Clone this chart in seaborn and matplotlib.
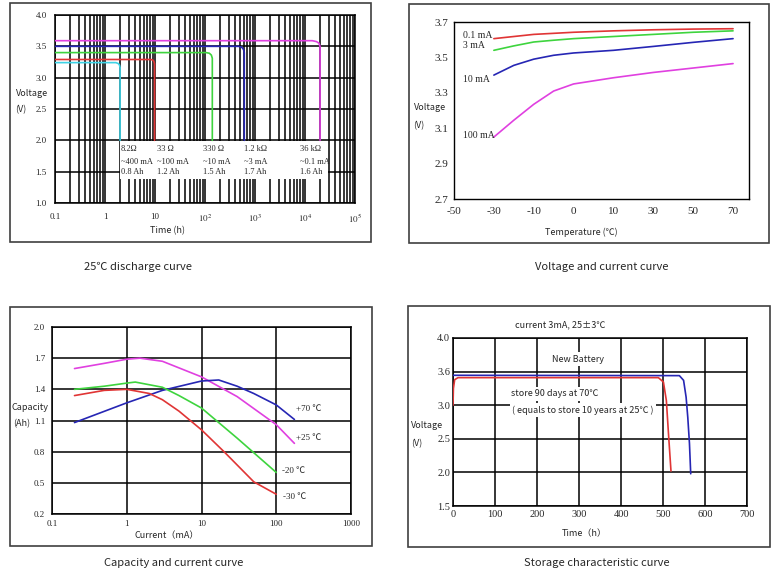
import numpy as np
import matplotlib
matplotlib.use("Agg")
import matplotlib.pyplot as plt
from matplotlib.patches import Rectangle
from matplotlib.ticker import FixedLocator, FixedFormatter, LogLocator, NullFormatter, NullLocator
import seaborn as sns

sns.set_style("white")
SANS = ['Liberation Sans Narrow', 'Noto Sans CJK SC', 'DejaVu Sans']
SERIF = ['Liberation Serif', 'Noto Sans CJK SC', 'DejaVu Serif']
plt.rcParams['font.family'] = SERIF
plt.rcParams['mathtext.fontset'] = 'stix'

W, H = 779, 576

# ---------------- data ----------------
# Panel 1: 25C discharge curves (time h, voltage V)
dis_cyan_t = [0.1, 1.65, 1.85, 1.95, 2.0, 2.0]
dis_cyan_v = [3.24, 3.24, 3.225, 3.20, 3.16, 2.0]
dis_red_t = [0.1, 8.3, 9.1, 9.5, 9.8, 9.8]
dis_red_v = [3.29, 3.29, 3.28, 3.26, 3.22, 2.0]
dis_green_t = [0.1, 105, 122, 134, 140, 140]
dis_green_v = [3.40, 3.40, 3.39, 3.36, 3.31, 2.0]
dis_blue_t = [0.1, 470, 545, 590, 610, 610]
dis_blue_v = [3.50, 3.50, 3.485, 3.45, 3.40, 2.0]
dis_mag_t = [0.1, 1.4e4, 1.7e4, 1.9e4, 2.0e4, 2.0e4]
dis_mag_v = [3.59, 3.59, 3.575, 3.55, 3.50, 2.0]
dis_ticks = [0.1, 1, 10, 100, 1e3, 1e4, 1e5]
dis_tick_labels = ['0.1', '1', '10', '$10^2$', '$10^3$', '$10^4$', '$10^5$']
dis_label_x = [2.05, 10.8, 90, 600, 8000]
dis_label_rows = [
    ['8.2Ω', '33 Ω', '330 Ω', '1.2 kΩ', '36 kΩ'],
    ['~400 mA', '~100 mA', '~10 mA', '~3 mA', '~0.1 mA'],
    ['0.8 Ah', '1.2 Ah', '1.5 Ah', '1.7 Ah', '1.6 Ah'],
]
dis_label_y = [1.86, 1.66, 1.49]

# Panel 2: voltage vs temperature
temp_axis = [-50, -30, -10, 0, 10, 30, 50, 70, 90]
temp_ticks = [-50, -30, -10, 0, 10, 30, 50, 70]
temps = [-30, -20, -10, -5, 0, 10, 30, 50, 70]
v_01mA = [3.606, 3.618, 3.630, 3.636, 3.642, 3.650, 3.656, 3.660, 3.662]
v_3mA = [3.540, 3.565, 3.587, 3.597, 3.606, 3.618, 3.630, 3.642, 3.650]
v_10mA = [3.400, 3.455, 3.490, 3.512, 3.525, 3.540, 3.562, 3.585, 3.606]
v_100mA = [3.050, 3.145, 3.235, 3.310, 3.350, 3.385, 3.415, 3.440, 3.465]
vt_labels = ['0.1 mA', '3 mA', '10 mA', '100 mA']
vt_label_y = [3.625, 3.57, 3.375, 3.06]

# Panel 3: capacity vs current
cap_p25_i = [0.2, 0.5, 1, 1.5, 3, 10, 30, 100, 175]
cap_p25_c = [1.60, 1.65, 1.69, 1.70, 1.67, 1.52, 1.33, 1.06, 0.88]
cap_p70_i = [0.2, 1, 3, 10, 17, 30, 50, 100, 175]
cap_p70_c = [1.08, 1.27, 1.39, 1.48, 1.49, 1.43, 1.36, 1.25, 1.11]
cap_m20_i = [0.2, 0.5, 1, 1.3, 3, 5, 10, 30, 100]
cap_m20_c = [1.40, 1.43, 1.46, 1.47, 1.42, 1.34, 1.22, 0.93, 0.60]
cap_m30_i = [0.2, 0.5, 1, 2, 3, 5, 10, 20, 50, 100]
cap_m30_c = [1.34, 1.39, 1.40, 1.36, 1.30, 1.19, 1.01, 0.80, 0.51, 0.39]
cap_labels = ['+70 ℃', '+25 ℃', '-20 ℃', '-30 ℃']
cap_label_x = [182, 182, 120, 122]
cap_label_y = [1.21, 0.93, 0.61, 0.365]
cap_ticks = [0.1, 1, 10, 100, 1000]
cap_tick_labels = ['0.1', '1', '10', '100', '1000']

# Panel 4: storage characteristic
st_new_t = [0, 539, 549, 555, 559, 563, 566]
st_new_v = [3.445, 3.44, 3.37, 3.12, 2.82, 2.43, 1.98]
st_old_t = [0, 1, 4, 12, 489, 501, 508, 513, 519]
st_old_v = [3.0, 3.25, 3.38, 3.41, 3.41, 3.345, 3.07, 2.58, 2.02]
st_yticks = [1.5, 2.0, 2.5, 3.0, 3.5, 4.0]
st_ytick_labels = ['1.5', '2.0', '2.5', '3.0', '3.6', '4.0']

# ---------------- helpers ----------------
def rect(l, t, r, b):
    return [l / W, 1 - b / H, (r - l) / W, (b - t) / H]

def ftext(x, y, s, size, **kw):
    fig.text(x / W, 1 - y / H, s, fontsize=size, ha='center', va='center',
             family=SANS, **kw)

fig = plt.figure(figsize=(W / 100, H / 100), dpi=100)

for (l, t, r, b) in [(10, 3, 371, 242), (409, 4, 769, 243),
                     (10, 307, 372, 546), (408, 306, 770, 547)]:
    fig.add_artist(Rectangle((l / W, 1 - b / H), (r - l) / W, (b - t) / H,
                             transform=fig.transFigure, fill=False,
                             edgecolor='#404040', lw=1.2))

C_CYAN, C_RED, C_GREEN, C_BLUE, C_MAG = '#3fd3e6', '#e03535', '#3ed43e', '#2626b4', '#e040e0'

# ---------------- panel 1 ----------------
ax1 = fig.add_axes(rect(55, 15, 355, 203))
ax1.set_xscale('log')
for t, v, c in [(dis_cyan_t, dis_cyan_v, C_CYAN), (dis_red_t, dis_red_v, C_RED),
                (dis_green_t, dis_green_v, C_GREEN), (dis_blue_t, dis_blue_v, C_BLUE),
                (dis_mag_t, dis_mag_v, C_MAG)]:
    sns.lineplot(x=t, y=v, ax=ax1, color=c, lw=1.2, sort=False, estimator=None, zorder=3)
ax1.set_xlim(0.1, 1e5)
ax1.set_ylim(1.0, 4.0)
ax1.xaxis.set_major_locator(FixedLocator(dis_ticks))
ax1.xaxis.set_major_formatter(FixedFormatter(dis_tick_labels))
ax1.xaxis.set_minor_locator(LogLocator(base=10, subs=np.arange(2, 10), numticks=100))
ax1.xaxis.set_minor_formatter(NullFormatter())
ax1.set_yticks(np.arange(1.0, 4.01, 0.5))
ax1.yaxis.set_major_formatter(FixedFormatter(['1.0', '1.5', '2.0', '2.5', '3.0', '3.5', '4.0']))
ax1.set_axisbelow(True)
ax1.xaxis.grid(True, which='both', color='black', lw=1.1)
ax1.yaxis.grid(True, which='major', color='black', lw=1.1)
ax1.tick_params(axis='both', which='both', length=0, labelsize=6.5)
ax1.tick_params(axis='x', pad=7)
ax1.tick_params(axis='y', pad=6)
for s in ax1.spines.values():
    s.set_color('black'); s.set_lw(1.1)
ax1.add_patch(Rectangle((2.04, 1.38), 2.9e4 - 2.04, 0.605, facecolor='white',
                        edgecolor='none', zorder=2))
for row, y in zip(dis_label_rows, dis_label_y):
    for s, x in zip(row, dis_label_x):
        ax1.text(x, y, s, fontsize=6, ha='left', va='center', zorder=4, family=SERIF)
ax1.set_xlabel(''); ax1.set_ylabel('')

# ---------------- panel 2 ----------------
ax2 = fig.add_axes(rect(454, 22, 749, 199))
idx = np.arange(len(temp_axis))
fwd = lambda x: np.interp(x, temp_axis, idx)
inv = lambda y: np.interp(y, idx, temp_axis)
for v, c in [(v_01mA, C_RED), (v_3mA, C_GREEN), (v_10mA, C_BLUE), (v_100mA, C_MAG)]:
    sns.lineplot(x=temps, y=v, ax=ax2, color=c, lw=1.2, sort=False, estimator=None)
ax2.set_xscale('function', functions=(fwd, inv))
ax2.set_xlim(-50, 78)
ax2.set_ylim(2.7, 3.7)
ax2.xaxis.set_major_locator(FixedLocator(temp_ticks))
ax2.xaxis.set_major_formatter(FixedFormatter([str(t) for t in temp_ticks]))
ax2.xaxis.set_minor_locator(NullLocator())
ax2.set_yticks(np.arange(2.7, 3.71, 0.2))
ax2.yaxis.set_major_formatter(FixedFormatter(['2.7', '2.9', '3.1', '3.3', '3.5', '3.7']))
ax2.yaxis.set_minor_locator(FixedLocator(np.arange(2.8, 3.65, 0.2)))
ax2.tick_params(axis='both', which='both', direction='in', length=3.5, width=0.9,
                labelsize=8, color='black')
ax2.tick_params(axis='x', pad=6)
ax2.tick_params(axis='y', pad=4)
for s in ax2.spines.values():
    s.set_color('black'); s.set_lw(1.0)
for s, y in zip(vt_labels, vt_label_y):
    ax2.text(-45.5, y, s, fontsize=7, ha='left', va='center', family=SERIF)
ax2.set_xlabel(''); ax2.set_ylabel('')

# ---------------- panel 3 ----------------
ax3 = fig.add_axes(rect(52, 327, 351, 514))
ax3.set_xscale('log')
for i, cc, c in [(cap_p25_i, cap_p25_c, C_MAG), (cap_p70_i, cap_p70_c, C_BLUE),
                 (cap_m20_i, cap_m20_c, C_GREEN), (cap_m30_i, cap_m30_c, C_RED)]:
    sns.lineplot(x=i, y=cc, ax=ax3, color=c, lw=1.2, sort=False, estimator=None, zorder=3)
ax3.set_xlim(0.1, 1000)
ax3.set_ylim(0.2, 2.0)
ax3.xaxis.set_major_locator(FixedLocator(cap_ticks))
ax3.xaxis.set_major_formatter(FixedFormatter(cap_tick_labels))
ax3.xaxis.set_minor_locator(NullLocator())
ax3.set_yticks(np.arange(0.2, 2.01, 0.3))
ax3.yaxis.set_major_formatter(FixedFormatter(['0.2', '0.5', '0.8', '1.1', '1.4', '1.7', '2.0']))
ax3.set_axisbelow(True)
ax3.grid(True, which='major', color='black', lw=1.1)
ax3.tick_params(axis='both', which='both', length=0, labelsize=6.5)
ax3.tick_params(axis='x', pad=4)
ax3.tick_params(axis='y', pad=5)
for s in ax3.spines.values():
    s.set_color('black'); s.set_lw(1.1)
for s, x, y in zip(cap_labels, cap_label_x, cap_label_y):
    ax3.text(x, y, s, fontsize=6.5, ha='left', va='center', family=SERIF)
ax3.set_xlabel(''); ax3.set_ylabel('')

# ---------------- panel 4 ----------------
ax4 = fig.add_axes(rect(453, 338, 747, 506))
sns.lineplot(x=st_new_t, y=st_new_v, ax=ax4, color=C_BLUE, lw=1.2, sort=False,
             estimator=None, zorder=3)
sns.lineplot(x=st_old_t, y=st_old_v, ax=ax4, color=C_RED, lw=1.2, sort=False,
             estimator=None, zorder=3)
ax4.set_xlim(0, 700)
ax4.set_ylim(1.5, 4.0)
ax4.set_xticks(np.arange(0, 701, 100))
ax4.set_yticks(st_yticks)
ax4.yaxis.set_major_formatter(FixedFormatter(st_ytick_labels))
ax4.set_axisbelow(True)
ax4.grid(True, which='major', color='black', lw=1.1)
ax4.tick_params(axis='both', which='both', length=0, labelsize=7.5)
ax4.tick_params(axis='x', pad=3)
ax4.tick_params(axis='y', pad=2)
for s in ax4.spines.values():
    s.set_color('black'); s.set_lw(1.1)
ax4.set_xlabel(''); ax4.set_ylabel('')

bb = dict(facecolor='white', edgecolor='none', pad=1.5)
ftext(560, 325, 'current 3mA, 25±3℃', 6.5)
ftext(578, 359, 'New Battery', 6.5, bbox=bb)
ftext(555, 394, 'store 90 days at 70℃', 6.5, bbox=bb)
ftext(583, 410, '( equals to store 10 years at 25℃ )', 6.5, bbox=bb)

# ---------------- axis labels & captions ----------------
ftext(32, 93, 'Voltage', 6.5); ftext(21, 110, '(V)', 6.5)
ftext(168, 231, 'Time (h)', 6.5)
ftext(430, 107, 'Voltage', 6.5); ftext(419, 126, '(V)', 6.5)
ftext(581, 232, 'Temperature (℃)', 6.5)
ftext(30, 408, 'Capacity', 6.5); ftext(22, 424, '(Ah)', 6.5)
ftext(167, 536, 'Current（mA）', 6.5)
ftext(427, 426, 'Voltage', 6.5); ftext(417, 444, '(V)', 6.5)
ftext(584, 534, 'Time（h）', 6.5)

ftext(138, 267, '25℃ discharge curve', 8)
ftext(602, 267, 'Voltage and current curve', 8)
ftext(174, 563, 'Capacity and current curve', 8)
ftext(597, 563, 'Storage characteristic curve', 8)

fig.savefig('out.png', dpi=100, facecolor='white')
